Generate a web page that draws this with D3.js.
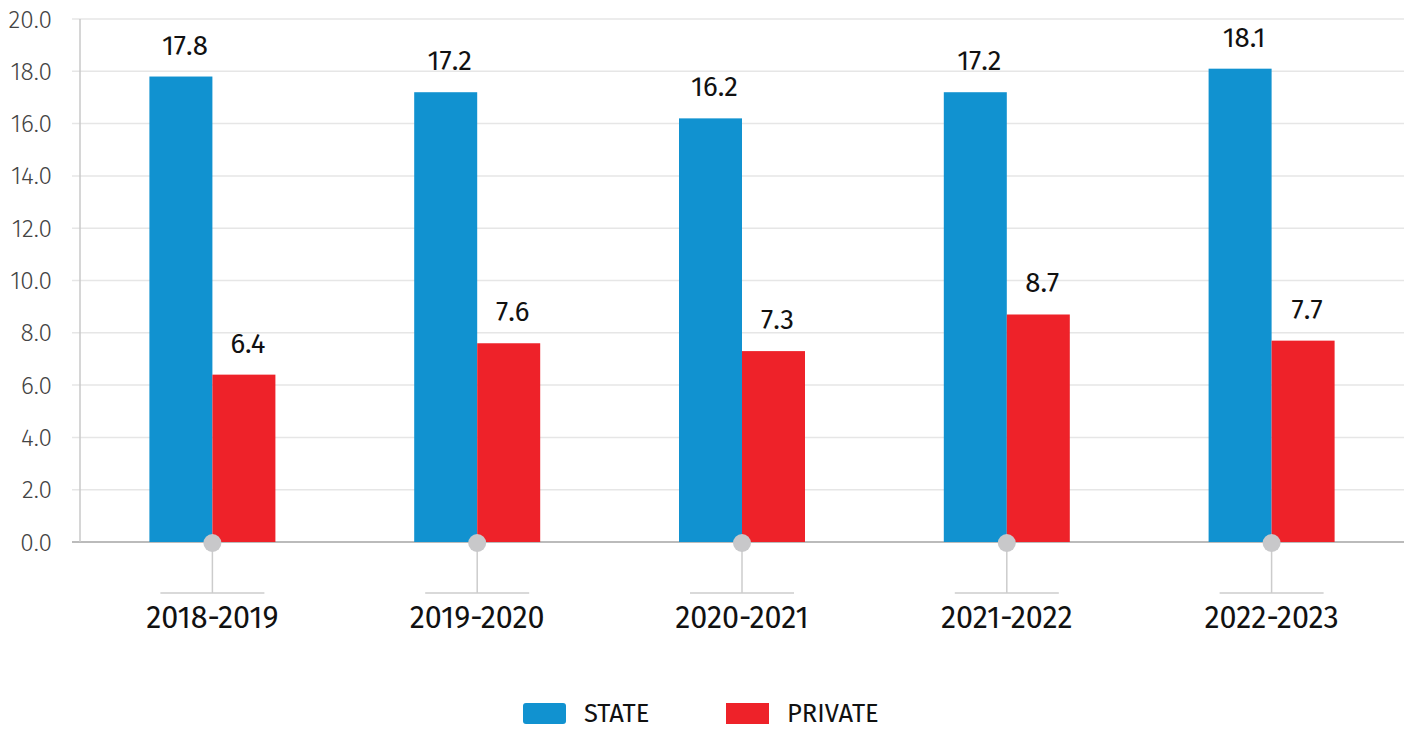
<!DOCTYPE html>
<html><head><meta charset="utf-8">
<script src="https://cdn.jsdelivr.net/npm/d3@7"></script>
<style>body{margin:0;background:#fff;font-family:"Fira Sans","Noto Sans","Open Sans",sans-serif;}</style>
</head><body><svg id="c" width="1408" height="729"></svg>
<script>
const categories = ["2018-2019","2019-2020","2020-2021","2021-2022","2022-2023"];
const seriesNames = ["STATE","PRIVATE"];
const stateValues = [17.8,17.2,16.2,17.2,18.1];
const privateValues = [6.4,7.6,7.3,8.7,7.7];
const yTicks = [0,2,4,6,8,10,12,14,16,18,20];
const colors = ["#1192d0","#ee2229"];

(function(){
const svg = d3.select("#c");
const mLeft = 80, mRight = 1404, mTop = 19, mBottom = 542;
const x = d3.scaleBand().domain(categories).range([mLeft, mRight]).padding(0);
const y = d3.scaleLinear().domain([0,20]).range([mBottom, mTop]);
const barW = 63;

svg.append("g").selectAll("line").data(yTicks).join("line")
  .attr("x1", mLeft-8).attr("x2", mRight).attr("y1", d=>y(d)).attr("y2", d=>y(d))
  .attr("stroke", d=> d===0 ? "#bbbbbb" : "#e6e6e6").attr("stroke-width", d=>d===0?2:1.5);
svg.append("line").attr("x1",mLeft).attr("x2",mLeft).attr("y1",mTop).attr("y2",mBottom)
  .attr("stroke","#c8c8c8").attr("stroke-width",1.5);
svg.append("g").selectAll("text").data(yTicks).join("text")
  .attr("x", 52).attr("y", d=>y(d)).attr("dy","0.35em").attr("text-anchor","end")
  .attr("font-size",24.5).attr("font-weight",300).attr("fill","#444").text(d=>d.toFixed(1));

const data = categories.map((c,i)=>({c, vals:[stateValues[i], privateValues[i]]}));
const g = svg.append("g");
data.forEach(d=>{
  const cx = x(d.c) + x.bandwidth()/2;
  d.vals.forEach((v,j)=>{
    const bx = j===0 ? cx - barW : cx;
    g.append("rect").attr("x",bx).attr("y",y(v)).attr("width",barW).attr("height",y(0)-y(v))
      .attr("fill",colors[j]);
    g.append("text").attr("x",bx+barW/2+4).attr("y",y(v)-22).attr("text-anchor","middle")
      .attr("font-size",27.5).attr("fill","#111").text(v.toFixed(1));
  });
  g.append("line").attr("x1",cx).attr("x2",cx).attr("y1",mBottom).attr("y2",593)
    .attr("stroke","#cccccc").attr("stroke-width",1.5);
  g.append("line").attr("x1",cx-52).attr("x2",cx+52).attr("y1",593).attr("y2",593)
    .attr("stroke","#cccccc").attr("stroke-width",1.5);
  g.append("circle").attr("cx",cx).attr("cy",mBottom+1).attr("r",9).attr("fill","#c8c8ca");
  g.append("text").attr("x",cx).attr("y",628).attr("text-anchor","middle")
    .attr("font-size",30.5).attr("fill","#111").text(d.c);
});

const leg = svg.append("g");
const lx = [523, 726];
seriesNames.forEach((n,i)=>{
  leg.append("rect").attr("x",lx[i]).attr("y",703).attr("width",43).attr("height",21)
    .attr("rx", i===0?3:0).attr("fill",colors[i]);
  leg.append("text").attr("x",lx[i]+61).attr("y",722).attr("font-size",25.5).attr("fill","#111").text(n);
});
})();
</script></body></html>
